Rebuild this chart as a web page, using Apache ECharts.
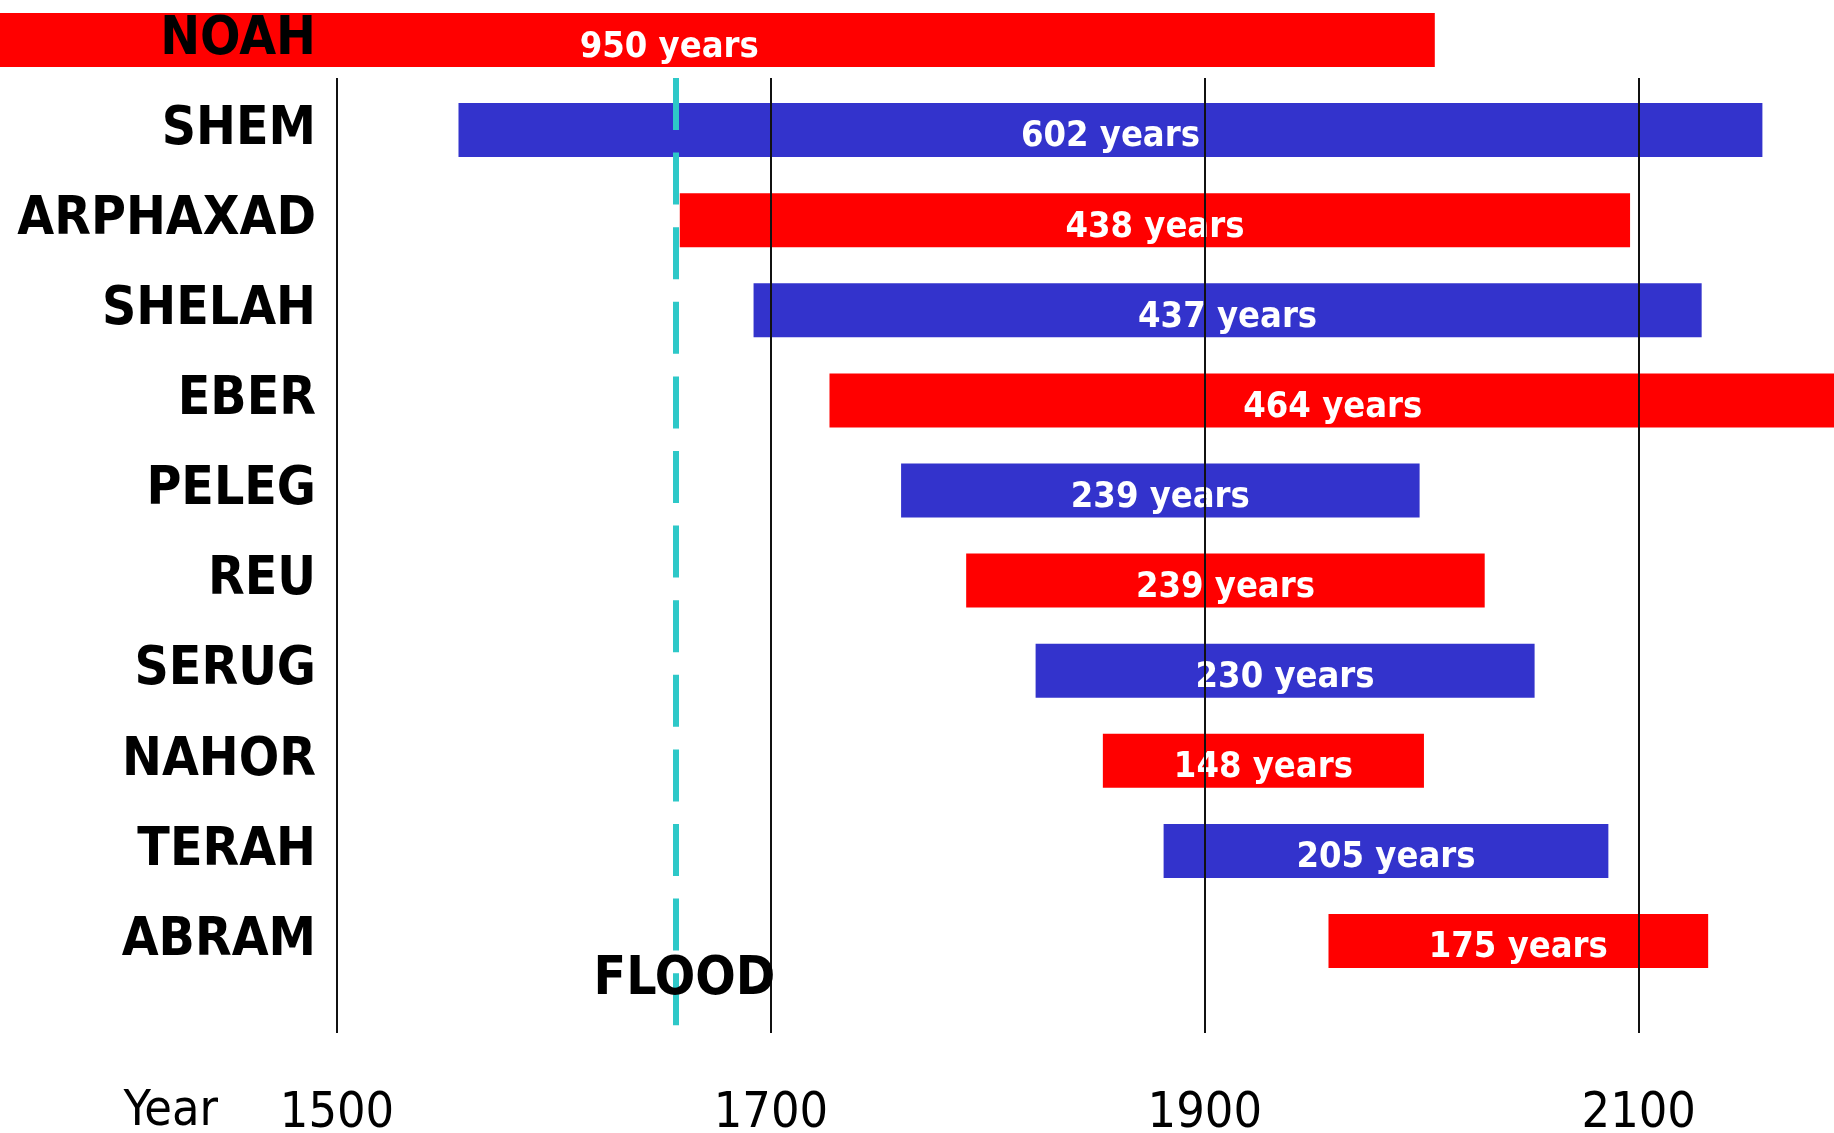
<!DOCTYPE html>
<html>
<head>
<meta charset="utf-8">
<script src="https://cdn.jsdelivr.net/npm/echarts@6/dist/echarts.min.js"></script>
<style>
html,body{margin:0;padding:0;background:#fff;}
#chart{width:1834px;height:1133px;}
</style>
</head>
<body>
<div id="chart"></div>
<script>
// ---- data ----
const names = ['NOAH','SHEM','ARPHAXAD','SHELAH','EBER','PELEG','REU','SERUG','NAHOR','TERAH','ABRAM'];
const births = [1056, 1556, 1658, 1692, 1727, 1760, 1790, 1822, 1853, 1881, 1957];
const deaths = [2006, 2157, 2096, 2129, 2191, 1999, 2029, 2052, 2001, 2086, 2132];
const lifeLabels = [950, 602, 438, 437, 464, 239, 239, 230, 148, 205, 175];
const tickYears = [1500, 1700, 1900, 2100];
const floodYear = 1656;
const floodLabel = 'FLOOD';
const axisName = 'Year';

const RED = '#FF0000', BLUE = '#3333CC';
const FONT = "'DejaVu Sans Condensed', 'DejaVu Sans', sans-serif";
const X_MIN = 1500, X_MAX = 2190;

const spans = births.map((b, i) => deaths[i] - b);

const chart = echarts.init(document.getElementById('chart'), null, {renderer: 'canvas'});

const option = {
  backgroundColor: '#ffffff',
  animation: false,
  grid: [
    {left: 337, right: 0, top: 40, bottom: 192, containLabel: false, outerBoundsMode: 'none'},
    {left: 337, right: 0, top: 78, bottom: 100, containLabel: false, outerBoundsMode: 'none'}
  ],
  xAxis: [
    {gridIndex: 0, type: 'value', min: X_MIN, max: X_MAX, show: false},
    {
      gridIndex: 1, type: 'value', min: X_MIN, max: X_MAX, interval: 100,
      offset: 81,
      axisLine: {show: false}, axisTick: {show: false}, splitLine: {show: false},
      axisLabel: {
        margin: 0, verticalAlign: 'middle', color: '#000',
        fontFamily: FONT, fontSize: 50,
        showMaxLabel: false,
        formatter: v => tickYears.indexOf(v) >= 0 ? String(v) : ''
      },
      name: axisName, nameLocation: 'start', nameGap: 119, nameMoveOverlap: false,
      nameTextStyle: {color: '#000', fontFamily: FONT, fontSize: 50, verticalAlign: 'top', lineHeight: 158}
    }
  ],
  yAxis: [
    {
      gridIndex: 0, type: 'category', inverse: true, data: names, z: 10, boundaryGap: false,
      axisLine: {show: false}, axisTick: {show: false}, splitLine: {show: false},
      axisLabel: {margin: 21, color: '#000', fontFamily: FONT, fontWeight: 'bold', fontSize: 53}
    },
    {gridIndex: 1, type: 'value', min: 0, max: 1, show: false}
  ],
  series: [
    {
      type: 'bar', xAxisIndex: 0, yAxisIndex: 0, stack: 'life',
      data: births, barWidth: 54, clip: false, silent: true,
      itemStyle: {color: 'rgba(0,0,0,0)'}, z: 1
    },
    {
      type: 'bar', xAxisIndex: 0, yAxisIndex: 0, stack: 'life',
      barWidth: 54, clip: false, z: 2,
      data: spans.map((s, i) => ({
        value: s,
        itemStyle: {color: i % 2 === 0 ? RED : BLUE},
        label: i === 0 ? {offset: [265, 8]} : {offset: [0, 7]}
      })),
      label: {
        show: true, position: 'inside', color: '#fff',
        fontFamily: FONT, fontWeight: 'bold', fontSize: 36,
        formatter: p => lifeLabels[p.dataIndex] + ' years'
      }
    },
    {
      type: 'line', xAxisIndex: 1, yAxisIndex: 1, data: [], z: 5, silent: true,
      markLine: {
        silent: true, symbol: 'none', animation: false,
        label: {show: false},
        data: tickYears.map(v => ({xAxis: v, lineStyle: {color: '#111', width: 2, type: 'solid'}}))
          .concat([[
            {coord: [floodYear, 1], lineStyle: {color: '#2EC8C8', width: 6, type: [52, 22.6]}},
            {coord: [floodYear, 0.005]}
          ]])
      },
      markPoint: {
        silent: true, symbol: 'circle', symbolSize: 0,
        data: [{coord: [floodYear, 0.0555]}],
        label: {
          show: true, position: 'inside', offset: [9, 0],
          formatter: floodLabel, color: '#000',
          fontFamily: FONT, fontWeight: 'bold', fontSize: 53
        }
      }
    }
  ]
};
chart.setOption(option);
</script>
</body>
</html>
